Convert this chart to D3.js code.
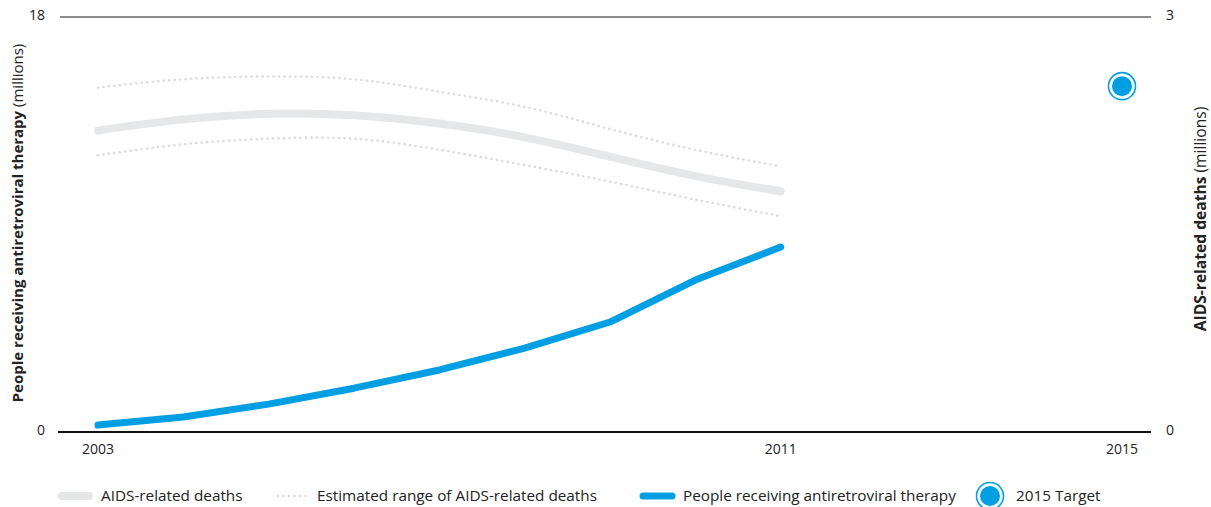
<!DOCTYPE html>
<html><head><meta charset="utf-8">
<script src="https://cdn.jsdelivr.net/npm/d3@7"></script>
<style>body{margin:0;background:#fff;} text{font-family:"Open Sans",sans-serif;fill:#222;}</style>
</head><body>
<svg id="c" width="1211" height="507"></svg>
<script>
const years = [2003,2004,2005,2006,2007,2008,2009,2010,2011];
const artValues = [0.30,0.65,1.21,1.90,2.69,3.64,4.77,6.59,8.02];
const deathsValues = [2.18,2.26,2.30,2.29,2.23,2.13,1.99,1.85,1.74];
const deathsUpper = [2.49,2.55,2.57,2.55,2.46,2.35,2.19,2.04,1.92];
const deathsLower = [2.00,2.08,2.12,2.12,2.04,1.93,1.81,1.68,1.56];
const targetYear = 2015, targetValue = 15;
const xTicks = [2003,2011,2015];
const leftTicks = [0,18];
const rightTicks = [0,3];

const svg = d3.select("#c");
const x = d3.scaleLinear().domain([2003,2015]).range([98,1122]);
const yL = d3.scaleLinear().domain([0,18]).range([432,17]);
const yR = d3.scaleLinear().domain([0,3]).range([432,17]);
const FS = 14, LFS = 15.3;

svg.append("line").attr("x1",60).attr("x2",1151).attr("y1",yL(18)).attr("y2",yL(18))
  .attr("stroke","#666").attr("stroke-width",1.3);
svg.append("line").attr("x1",58).attr("x2",1151).attr("y1",yL(0)).attr("y2",yL(0))
  .attr("stroke","#111").attr("stroke-width",2.2);

svg.selectAll(".lt").data(leftTicks).join("text").attr("x",45).attr("y",d=>yL(d)+3)
  .attr("text-anchor","end").attr("font-size",FS).text(d=>d);
svg.selectAll(".rt").data(rightTicks).join("text").attr("x",1166).attr("y",d=>yR(d)+3)
  .attr("text-anchor","start").attr("font-size",FS).text(d=>d);
svg.selectAll(".xt").data(xTicks).join("text").attr("x",d=>x(d)).attr("y",454)
  .attr("text-anchor","middle").attr("font-size",FS).text(d=>d);

const lt = svg.append("text").attr("transform","translate(23,223) rotate(-90)")
  .attr("text-anchor","middle").attr("font-size",15);
lt.append("tspan").attr("font-weight","bold").text("People receiving antiretroviral  therapy");
lt.append("tspan").text(" (millions)");
const rt = svg.append("text").attr("transform","translate(1206,219) rotate(-90)")
  .attr("text-anchor","middle").attr("font-size",15.6);
rt.append("tspan").attr("font-weight","bold").text("AIDS-related deaths");
rt.append("tspan").text(" (millions)");

const lineR = d3.line().x((d,i)=>x(years[i])).y(d=>yR(d)).curve(d3.curveNatural);
const lineL = d3.line().x((d,i)=>x(years[i])).y(d=>yL(d)).curve(d3.curveLinear);

[deathsUpper, deathsLower].forEach(arr=>{
  svg.append("path").attr("d",lineR(arr)).attr("fill","none").attr("stroke","#d9dadb")
    .attr("stroke-width",2.6).attr("stroke-linecap","round").attr("stroke-dasharray","0,5.5");
});
svg.append("path").attr("d",lineR(deathsValues)).attr("fill","none").attr("stroke","#e6e7e8")
  .attr("stroke-width",8).attr("stroke-linecap","round");
svg.append("path").attr("d",lineL(artValues)).attr("fill","none").attr("stroke","#009fe3")
  .attr("stroke-width",7).attr("stroke-linecap","round").attr("stroke-linejoin","round");

function target(g,cx,cy){
  g.append("circle").attr("cx",cx).attr("cy",cy).attr("r",13.5).attr("fill","none")
    .attr("stroke","#009fe3").attr("stroke-width",1.6);
  g.append("circle").attr("cx",cx).attr("cy",cy).attr("r",10).attr("fill","#009fe3");
}
target(svg, x(targetYear), yL(targetValue));

const ly = 496;
svg.append("line").attr("x1",62).attr("x2",89).attr("y1",ly).attr("y2",ly)
  .attr("stroke","#e6e7e8").attr("stroke-width",8).attr("stroke-linecap","round");
svg.append("text").attr("x",101).attr("y",ly+5).attr("font-size",LFS).text("AIDS-related deaths");
svg.append("line").attr("x1",278).attr("x2",306).attr("y1",ly).attr("y2",ly)
  .attr("stroke","#d9dadb").attr("stroke-width",2.4).attr("stroke-linecap","round").attr("stroke-dasharray","0,5.5");
svg.append("text").attr("x",317).attr("y",ly+5).attr("font-size",LFS).text("Estimated range of AIDS-related deaths");
svg.append("line").attr("x1",643).attr("x2",672).attr("y1",ly).attr("y2",ly)
  .attr("stroke","#009fe3").attr("stroke-width",7).attr("stroke-linecap","round");
svg.append("text").attr("x",683).attr("y",ly+5).attr("font-size",LFS).text("People receiving antiretroviral therapy");
target(svg, 990, ly);
svg.append("text").attr("x",1016).attr("y",ly+5).attr("font-size",LFS).text("2015 Target");
</script>
</body></html>
